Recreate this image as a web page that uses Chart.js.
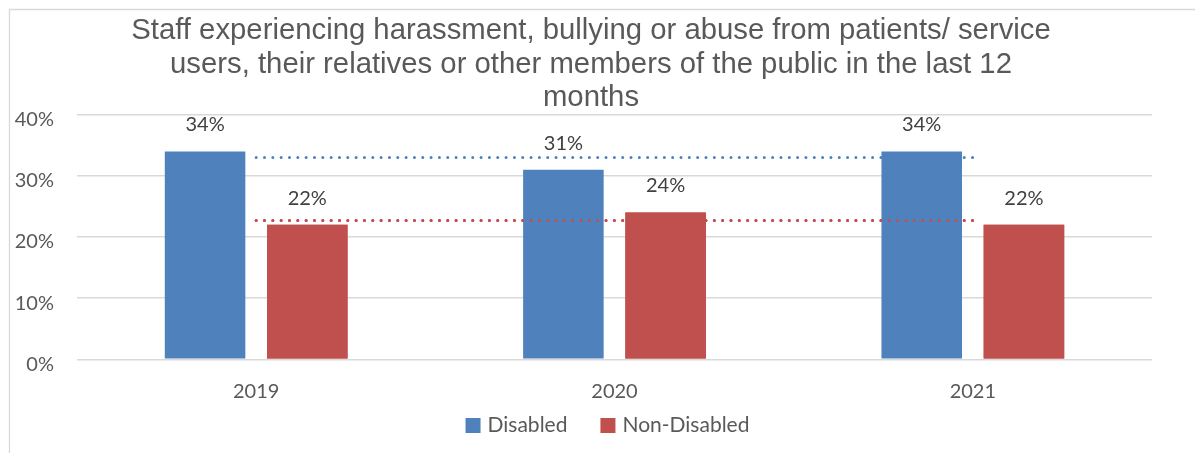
<!DOCTYPE html>
<html>
<head>
<meta charset="utf-8">
<script src="https://cdn.jsdelivr.net/npm/chart.js@4.4.0/dist/chart.umd.min.js"></script>
<style>
  html, body { margin: 0; padding: 0; background: #fff; }
  canvas { display: block; }
</style>
</head>
<body>
<canvas id="chart" width="1195" height="453"></canvas>
<script>
// Chart text and values
const titleLines = [
  'Staff experiencing harassment, bullying or abuse from patients/ service',
  'users, their relatives or other members of the public in the last 12',
  'months'
];
const years = ['2019', '2020', '2021'];
const seriesNames = ['Disabled', 'Non-Disabled'];
const disabled = [34, 31, 34];
const nonDisabled = [22, 24, 22];
const disabledTrend = [33, 33, 33];
const nonDisabledTrend = [22.7, 22.7, 22.7];
const yTicks = [0, 10, 20, 30, 40];

const BLUE = '#4F81BD';
const RED = '#C0504D';
const FONT = 'Lato';

Chart.defaults.font.family = FONT;

// White background plus the light frame on the top and left edges
const frame = {
  id: 'frame',
  beforeDraw(chart) {
    const ctx = chart.ctx;
    ctx.save();
    ctx.fillStyle = '#ffffff';
    ctx.fillRect(0, 0, chart.width, chart.height);
    ctx.strokeStyle = '#d9d9d9';
    ctx.lineWidth = 1.3;
    ctx.beginPath();
    ctx.moveTo(9.5, chart.height);
    ctx.lineTo(9.5, 9.5);
    ctx.lineTo(chart.width, 9.5);
    ctx.stroke();
    ctx.restore();
  }
};

// Centre the title a little right of the frame edge
const titleShift = {
  id: 'titleShift',
  afterLayout(chart) {
    const t = chart.titleBlock;
    if (t) { t.left += 21; t.width -= 21; }
  }
};

// Each trend line sits behind its own bars but above the other series' bars
const layering = {
  id: 'layering',
  afterDatasetDraw(chart, args) {
    if (args.index === 0) {
      chart.getDatasetMeta(3).controller.draw();
      chart.getDatasetMeta(1).controller.draw();
    }
  }
};

// Percentage labels above the bars
const valueLabels = {
  id: 'valueLabels',
  afterDatasetsDraw(chart) {
    const ctx = chart.ctx;
    ctx.save();
    ctx.font = '20px ' + FONT;
    ctx.fillStyle = '#404040';
    ctx.textAlign = 'center';
    ctx.textBaseline = 'middle';
    [0, 1].forEach(di => {
      const meta = chart.getDatasetMeta(di);
      const values = chart.data.datasets[di].data;
      meta.data.forEach((bar, i) => {
        ctx.fillText(values[i] + '%', bar.x, bar.y - 26.5);
      });
    });
    ctx.restore();
  }
};

// Legend row under the axis labels
const legendRow = {
  id: 'legendRow',
  afterDraw(chart) {
    const ctx = chart.ctx;
    const box = 15, textGap = 7, itemGap = 33, cx = 607.5, cy = 425.5;
    ctx.save();
    ctx.font = '21px ' + FONT;
    ctx.textBaseline = 'middle';
    ctx.textAlign = 'left';
    const items = [0, 1].map(di => {
      const ds = chart.data.datasets[di];
      return { label: ds.label, color: ds.backgroundColor, w: ctx.measureText(ds.label).width };
    });
    const total = items.reduce((s, it) => s + box + textGap + it.w, 0) + itemGap * (items.length - 1);
    let x = cx - total / 2;
    items.forEach(it => {
      ctx.fillStyle = it.color;
      ctx.fillRect(x, cy - box / 2, box, box);
      ctx.fillStyle = '#595959';
      ctx.fillText(it.label, x + box + textGap, cy - 0.6);
      x += box + textGap + it.w + itemGap;
    });
    ctx.restore();
  }
};

const trendStyle = {
  type: 'line',
  pointRadius: 0,
  pointHoverRadius: 0,
  borderWidth: 3,
  borderDash: [0, 8.33],
  borderCapStyle: 'round',
  fill: false,
  tension: 0
};

new Chart(document.getElementById('chart'), {
  type: 'bar',
  data: {
    labels: years,
    datasets: [
      { label: seriesNames[0], data: disabled, backgroundColor: BLUE, order: 0,
        categoryPercentage: 0.5705, barPercentage: 0.788 },
      { label: seriesNames[1], data: nonDisabled, backgroundColor: RED, order: 0,
        categoryPercentage: 0.5705, barPercentage: 0.788 },
      Object.assign({ label: seriesNames[0] + ' trend', data: disabledTrend, borderColor: BLUE, order: 2 }, trendStyle),
      Object.assign({ label: seriesNames[1] + ' trend', data: nonDisabledTrend, borderColor: RED, order: 1 }, trendStyle)
    ]
  },
  options: {
    responsive: false,
    animation: false,
    devicePixelRatio: 1,
    layout: { padding: { left: 9, right: 43, top: 0, bottom: 0 } },
    plugins: {
      legend: { display: false },
      tooltip: { enabled: false },
      title: {
        display: true,
        text: titleLines,
        color: '#595959',
        font: { family: 'Liberation Sans', size: 29.3, weight: 'normal', lineHeight: 33.4 / 29.3 },
        padding: { top: 14.5, bottom: 0 }
      }
    },
    scales: {
      x: {
        grid: { display: false },
        border: { display: false },
        ticks: { padding: 12.5, color: '#595959', font: { size: 20 } },
        afterFit(scale) { scale.height = 93.7; }
      },
      y: {
        min: 0,
        max: 40,
        border: { display: false },
        grid: { color: '#d9d9d9', lineWidth: 1.5, drawTicks: false },
        ticks: {
          padding: 23,
          labelOffset: 5,
          color: '#595959',
          font: { size: 20 },
          callback: v => v + '%'
        },
        afterBuildTicks(scale) { scale.ticks = yTicks.map(v => ({ value: v })); },
        afterFit(scale) { scale.width = 68; }
      }
    }
  },
  plugins: [frame, titleShift, layering, valueLabels, legendRow]
});
</script>
</body>
</html>
